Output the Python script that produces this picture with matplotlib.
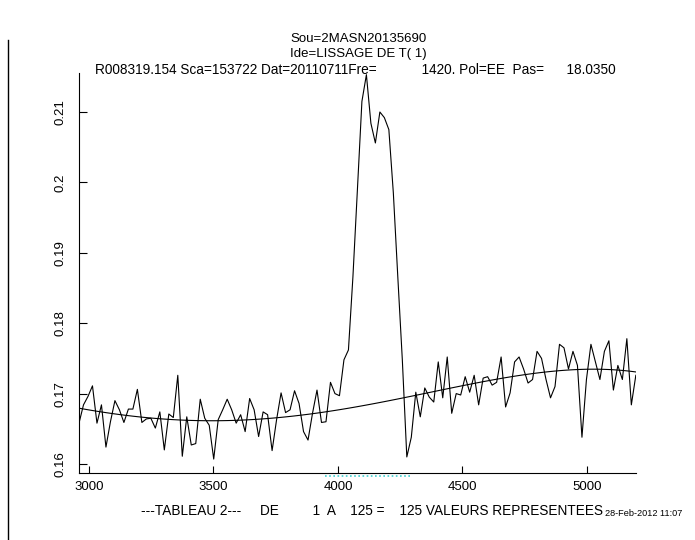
import numpy as np
import matplotlib.pyplot as plt

plt.rcParams['font.family'] = ['Liberation Sans', 'DejaVu Sans']

# spectre : 125 canaux, pas de 18.035
x_debut = 2960.0
pas = 18.0350
temperature = np.array([
    0.1658, 0.1684, 0.1696, 0.1711, 0.1658, 0.1684, 0.1624, 0.1660, 0.1690, 0.1677,
    0.1659, 0.1678, 0.1678, 0.1706, 0.1659, 0.1664, 0.1665, 0.1651, 0.1674, 0.1620,
    0.1671, 0.1666, 0.1726, 0.1611, 0.1667, 0.1627, 0.1629, 0.1692, 0.1665, 0.1655,
    0.1607, 0.1663, 0.1677, 0.1692, 0.1677, 0.1658, 0.1670, 0.1646, 0.1693, 0.1677,
    0.1639, 0.1674, 0.1670, 0.1619, 0.1663, 0.1701, 0.1673, 0.1677, 0.1704, 0.1686,
    0.1646, 0.1634, 0.1672, 0.1705, 0.1659, 0.1660, 0.1716, 0.1700, 0.1697, 0.1748,
    0.1762, 0.1866, 0.1990, 0.2115, 0.2153, 0.2084, 0.2056, 0.2100, 0.2092, 0.2075,
    0.1985, 0.1865, 0.1748, 0.1610, 0.1638, 0.1702, 0.1667, 0.1708, 0.1695, 0.1688,
    0.1745, 0.1694, 0.1752, 0.1672, 0.1700, 0.1698, 0.1724, 0.1702, 0.1726, 0.1684,
    0.1722, 0.1724, 0.1712, 0.1716, 0.1752, 0.1681, 0.1701, 0.1745, 0.1752, 0.1735,
    0.1715, 0.1720, 0.1760, 0.1750, 0.1720, 0.1694, 0.1710, 0.1770, 0.1765, 0.1735,
    0.1760, 0.1740, 0.1638, 0.1720, 0.1770, 0.1745, 0.1720, 0.1760, 0.1775, 0.1705,
    0.1740, 0.1720, 0.1778, 0.1684, 0.1726,
])
canaux = x_debut + pas * np.arange(len(temperature))

# fenetre de la raie, exclue du lissage
fenetre = (3948.0, 4297.0)

hors_raie = (canaux < fenetre[0]) | (canaux > fenetre[1])
coefs = np.polyfit(canaux[hors_raie], temperature[hors_raie], 4)
ligne_base = np.polyval(coefs, canaux)

fig = plt.figure(figsize=(6.95, 5.4), dpi=100)
ax = fig.add_axes([79/695, 67/540, 557/695, 400/540])

ax.plot(canaux, temperature, color='black', lw=0.8)
ax.plot(canaux, ligne_base, color='black', lw=0.8)
ax.plot(fenetre, [0.1583, 0.1583], color='#40d0d0', lw=1.2, ls=(0, (1, 1.5)), clip_on=False)

ax.set_xlim(2960, 5197)
ax.set_ylim(0.15872, 0.21554)
ax.set_xticks([3000, 3500, 4000, 4500, 5000])
ax.set_yticks([0.16, 0.17, 0.18, 0.19, 0.2, 0.21])
ax.set_yticklabels(['0.16', '0.17', '0.18', '0.19', '0.2', '0.21'], rotation=90, va='center')
ax.tick_params(axis='x', direction='in', length=5, width=0.8, pad=6, labelsize=9.5)
ax.tick_params(axis='y', direction='in', length=6, width=0.8, pad=9, labelsize=9.5)
for s in ['top', 'right']:
    ax.spines[s].set_visible(False)
for s in ['left', 'bottom']:
    ax.spines[s].set_linewidth(0.8)

taille = 9.8
fig.text(290/695, 1 - 38.5/540, 'Sou=2MASN20135690', fontsize=9.5, va='center')
fig.text(290/695, 1 - 53.5/540, 'Ide=LISSAGE DE T( 1)', fontsize=9.5, va='center')
entete = ('R008319.154 Sca=153722 Dat=20110711Fre=' + ' ' * 12 + '1420. Pol=EE'
          + '  ' + 'Pas=' + ' ' * 6 + '18.0350')
fig.text(95/695, 1 - 69.5/540, entete, fontsize=taille, va='center')
fig.text(603/695, 1 - 511/540,
         '---TABLEAU 2---     DE         1  A    125 =    125 VALEURS REPRESENTEES',
         fontsize=taille, ha='right', va='center')
fig.text(605/695, 1 - 514/540, '28-Feb-2012 11:07', fontsize=6.6, va='center')

# trait vertical a gauche de la page
fig.add_artist(plt.Line2D([8/695, 8/695], [0, 1 - 40/540], color='black', lw=1))

fig.savefig('out.png', dpi=100)
